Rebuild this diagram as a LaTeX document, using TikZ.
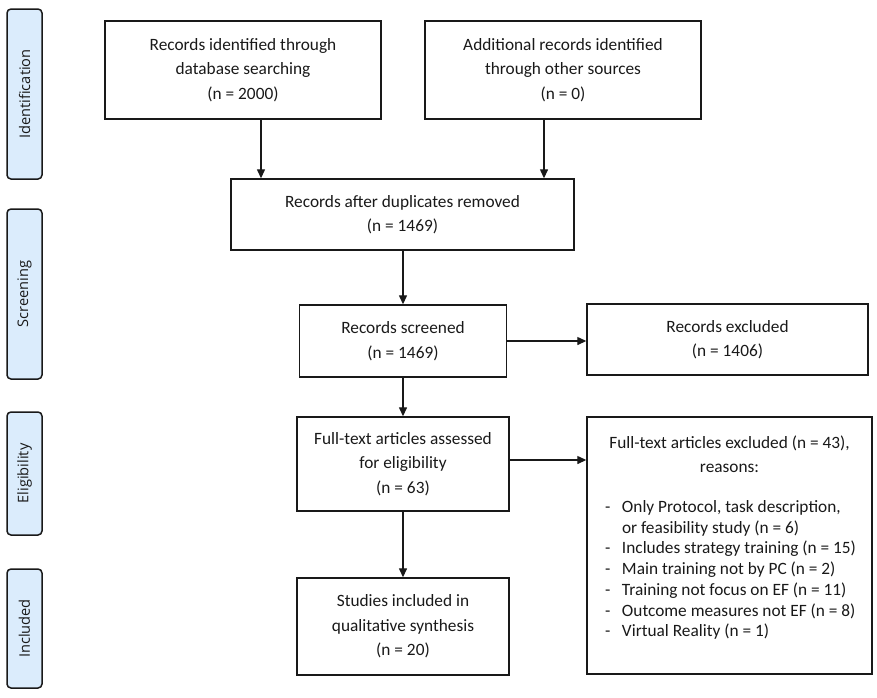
\documentclass[tikz,border=0pt]{standalone}
\usepackage{fontspec}
\setmainfont{Carlito}
\newfontfamily\phasefont{Open Sans}
\usetikzlibrary{arrows.meta,calc}
\definecolor{lblfill}{RGB}{219,236,252}
\definecolor{ink}{RGB}{25,25,25}
\begin{document}
\begin{tikzpicture}[x=1pt,y=-1pt,
  box/.style={draw=ink, line width=1.4pt, align=center, inner sep=0pt,
    font=\fontsize{17.3}{24.5}\selectfont, text=ink},
  phase/.style={draw=ink, fill=lblfill, rounded corners=4pt, line width=1.5pt,
    minimum width=35pt, inner sep=0pt, text=ink},
  arr/.style={draw=ink, line width=1.3pt, -{Triangle[length=9pt,width=8pt]}}]
\useasboundingbox (0,0) rectangle (877,697);
% phase labels
\node[phase, minimum height=170pt] (pid) at (24.5,94) {\rotatebox{90}{\phasefont\fontsize{14.6}{14.6}\selectfont Identification}};
\node[phase, minimum height=170pt] (psc) at (24.5,294) {\rotatebox{90}{\phasefont\fontsize{14.6}{14.6}\selectfont Screening}};
\node[phase, minimum height=123pt] (pel) at (24.5,473.5) {\rotatebox{90}{\phasefont\fontsize{14.6}{14.6}\selectfont Eligibility}};
\node[phase, minimum height=119pt] (pin) at (24.5,628.5) {\rotatebox{90}{\phasefont\fontsize{14.6}{14.6}\selectfont Included}};
% boxes
\node[box, minimum width=276pt, minimum height=98pt] (b1) at (243,70) {Records identified through\\database searching\\(n = 2000)};
\node[box, minimum width=276pt, minimum height=98pt] (b2) at (563,70) {Additional records identified\\through other sources\\(n = 0)};
\node[box, minimum width=343pt, minimum height=71pt] (b3) at (402.5,214.5) {Records after duplicates removed\\(n = 1469)};
\node[box, minimum width=207pt, minimum height=72pt] (scr) at (403,341) {Records screened\\(n = 1469)};
\node[box, minimum width=281pt, minimum height=71pt] (rexc) at (727.5,339.5) {Records excluded\\(n = 1406)};
\node[box, minimum width=212pt, minimum height=94pt] (full) at (403,464) {Full-text articles assessed\\for eligibility\\(n = 63)};
\node[box, minimum width=212pt, minimum height=97pt] (incl) at (403,626.5) {Studies included in\\qualitative synthesis\\(n = 20)};
\node[box, minimum width=285pt, minimum height=257pt] (fexc) at (729.5,545.5) {\begin{minipage}{285pt}
\centering Full-text articles excluded (n = 43),\\ reasons:\par
\vspace{19.3pt}
{\raggedright\fontsize{17.3}{20.7}\selectfont
\hspace*{18pt}\makebox[17pt][l]{-}Only Protocol, task description,\\
\hspace*{35pt}or feasibility study (n = 6)\\
\hspace*{18pt}\makebox[17pt][l]{-}Includes strategy training (n = 15)\\
\hspace*{18pt}\makebox[17pt][l]{-}Main training not by PC (n = 2)\\
\hspace*{18pt}\makebox[17pt][l]{-}Training not focus on EF (n = 11)\\
\hspace*{18pt}\makebox[17pt][l]{-}Outcome measures not EF (n = 8)\\
\hspace*{18pt}\makebox[17pt][l]{-}Virtual Reality (n = 1)\par}
\vspace{16pt}
\end{minipage}};
% arrows
\draw[arr] ([xshift=18pt]b1.south) -- ([xshift=18pt]b1.south |- b3.north);
\draw[arr] ([xshift=-19pt]b2.south) -- ([xshift=-19pt]b2.south |- b3.north);
\draw[arr] (b3.south -| scr.north) -- (scr.north);
\draw[arr] (scr.east) -- (scr.east -| rexc.west);
\draw[arr] (scr.south -| full.north) -- (full.north);
\draw[arr] ([yshift=4pt]full.east) -- ([yshift=4pt]full.east -| fexc.west);
\draw[arr] (full.south) -- (incl.north);
\end{tikzpicture}
\end{document}
